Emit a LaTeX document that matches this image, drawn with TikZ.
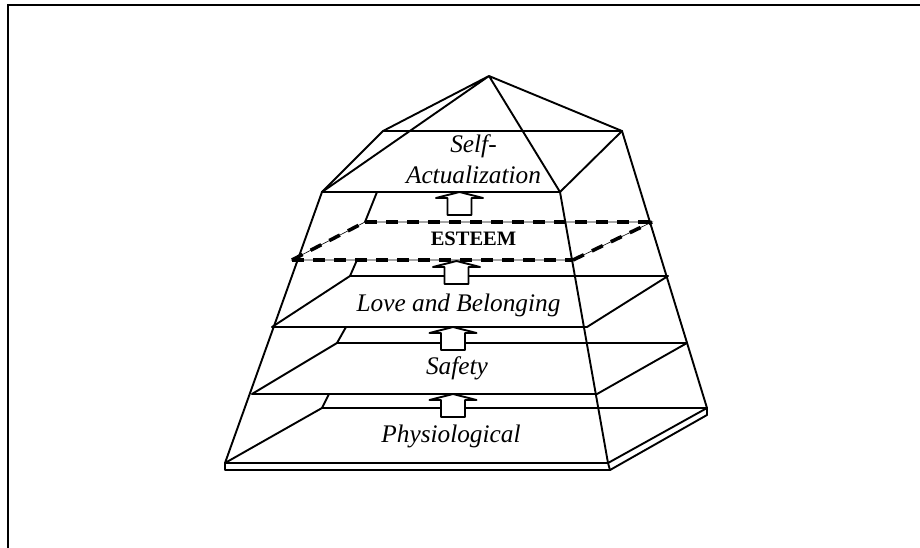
\documentclass[tikz,border=0pt]{standalone}
\usepackage{fontspec}
\setmainfont{Liberation Serif}
\begin{document}
\begin{tikzpicture}[x=1pt,y=-1pt,
  edge/.style={line width=1.9pt, line join=round, line cap=round},
  thinedge/.style={line width=0.6pt},
  dashedge/.style={line width=3.6pt, dash pattern=on 12pt off 9pt},
  levellabel/.style={font=\fontsize{25.3}{30}\selectfont\itshape, anchor=base, inner sep=0pt},
  boldlabel/.style={font=\fontsize{20.5}{24}\selectfont\bfseries, anchor=base, inner sep=0pt},
  levelarrow/.pic={\draw[edge, fill=white] (0,0) -- (23.5,6) -- (12,6) -- (12,23)
      -- (-12,23) -- (-12,6) -- (-23.5,6) -- cycle;}]
\useasboundingbox (0,0) rectangle (920,548);
% frame
\draw[line width=2.4pt] (8,548) -- (8,5) -- (920,5);

% roof corners
\coordinate (A)  at (489,76);
\coordinate (BL) at (383,131);
\coordinate (BR) at (622,131);
\coordinate (FL) at (322,192);
\coordinate (FR) at (560,192);
% base plate
\coordinate (b0FL) at (225,463);
\coordinate (b0FR) at (608,463);
\coordinate (b0BL) at (322,408);
\coordinate (b0BR) at (707,408);
\coordinate (s0L)  at (225,470);
\coordinate (s0R)  at (610,470);
\coordinate (s0BR) at (707,415);
% floor plates
\coordinate (f1FL) at (252,394);
\coordinate (f1FR) at (597,394);
\coordinate (f1BL) at (337,343);
\coordinate (f1BR) at (687,343);
\coordinate (f2FL) at (272,327);
\coordinate (f2FR) at (587,327);
\coordinate (f2BL) at (350,276);
\coordinate (f2BR) at (668,276);
\coordinate (f3FL) at (292,260);
\coordinate (f3FR) at (573,260);
\coordinate (f3BL) at (365,222);
\coordinate (f3BR) at (652,222);
% visible pieces of the back-left edge
\coordinate (k0) at (329,394);
\coordinate (k1) at (346,327);
\coordinate (k2) at (357,260);
\coordinate (k3) at (377,192);

% roof
\draw[edge] (A) -- (BL) (A) -- (BR) (A) -- (FL) (A) -- (FR);
\draw[edge] (BL) -- (BR) -- (FR) -- (FL) -- cycle;

% side edges of the body
\draw[edge] (FL) -- (b0FL);
\draw[edge] (FR) -- (b0FR);
\draw[edge] (BR) -- (b0BR);

% base slab
\draw[edge] (b0FL) -- (b0FR) -- (b0BR) -- (b0BL) -- cycle;
\draw[edge] (b0FL) -- (s0L) -- (s0R) -- (s0BR) -- (b0BR);
\draw[edge] (b0FR) -- (s0R);

% floors
\draw[edge] (f1FL) -- (f1FR) -- (f1BR) -- (f1BL) -- cycle;
\draw[edge] (f2FL) -- (f2FR) -- (f2BR) -- (f2BL) -- cycle;
\draw[edge] (k0) -- (b0BL);
\draw[edge] (k1) -- (f1BL);
\draw[edge] (k2) -- (f2BL);
\draw[edge] (k3) -- (f3BL);

% dashed esteem floor
\draw[thinedge] (f3FL) -- (f3FR) -- (f3BR) -- (f3BL) -- cycle;
\draw[dashedge] (f3FL) -- (f3FR);
\draw[dashedge] (f3BL) -- (f3BR);
\draw[dashedge] (f3FR) -- (f3BR);
\draw[dashedge] (f3FL) -- (f3BL);

% arrows between levels
\pic at (459.5,192) {levelarrow};
\pic at (456.5,261) {levelarrow};
\pic at (453,327) {levelarrow};
\pic at (453,394) {levelarrow};

% labels
\node[levellabel] (selfa) at (473.5,153) {Self-};
\node[levellabel] (selfb) at (473.5,183) {Actualization};
\node[boldlabel] (esteem) at (473.5,245) {ESTEEM};
\node[levellabel] (love) at (458.5,311) {Love and Belonging};
\node[levellabel] (safety) at (457,374) {Safety};
\node[levellabel] (physio) at (451,442) {Physiological};
\end{tikzpicture}
\end{document}
